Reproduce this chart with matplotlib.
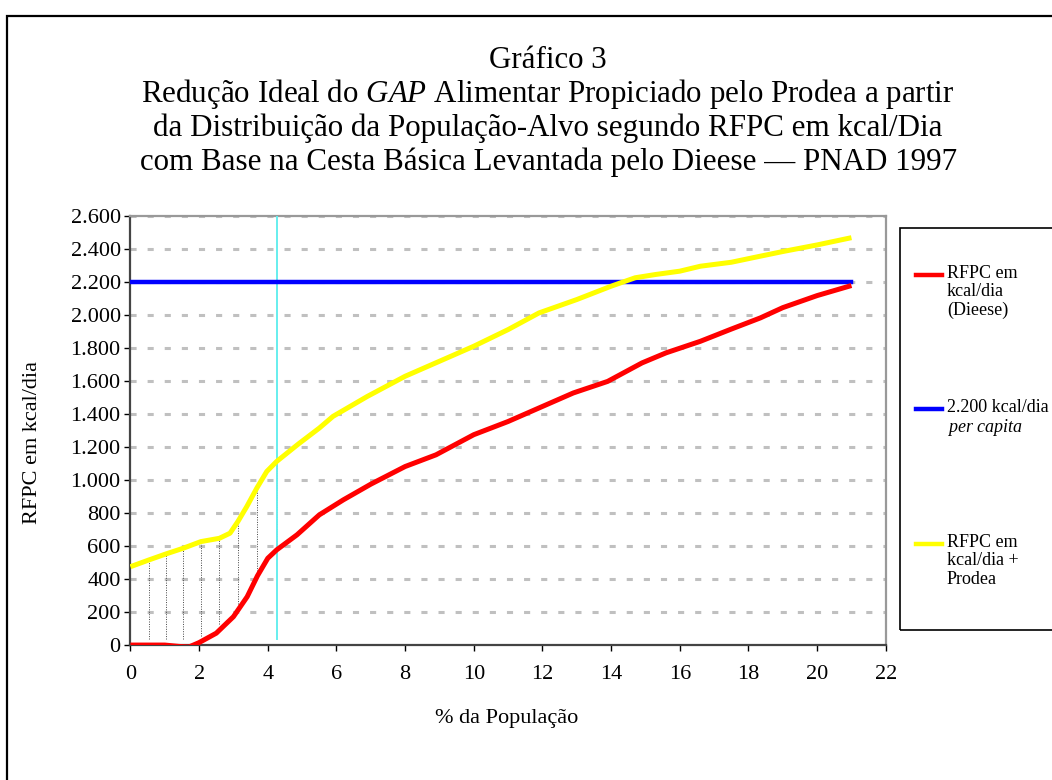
import numpy as np
import matplotlib
matplotlib.use("Agg")
import matplotlib.pyplot as plt
from matplotlib.lines import Line2D
from matplotlib.patches import Rectangle

plt.rcParams['font.family'] = ['Liberation Serif', 'DejaVu Serif']
plt.rcParams['mathtext.fontset'] = 'custom'
plt.rcParams['mathtext.rm'] = 'Liberation Serif'
plt.rcParams['mathtext.it'] = 'Liberation Serif:italic'

# data (% da população vs kcal/dia)
x_red = [0, 0.5, 1.0, 1.4, 1.7, 2.0, 2.5, 3.0, 3.4, 3.7, 4.0, 4.26, 4.85, 5.5,
         6.2, 7.0, 8.0, 8.9, 10.0, 11.0, 11.9, 12.9, 13.9, 14.9, 15.6, 16.6,
         17.5, 18.35, 19.0, 20.0, 21.0]
y_red = [0, 0, 0, -8, -12, 15, 72, 172, 293, 420, 526, 577, 668, 789,
         880, 975, 1082, 1153, 1275, 1355, 1437, 1528, 1598, 1710, 1771, 1841,
         1915, 1983, 2045, 2118, 2179]

x_yel = [0, 0.54, 1.03, 1.54, 2.05, 2.59, 2.9, 3.13, 3.39, 3.68, 3.97, 4.26,
         4.9, 5.5, 5.9, 6.9, 8.0, 9.0, 10.0, 11.0, 11.9, 13.0, 14.0, 14.7,
         15.3, 16.0, 16.6, 17.5, 18.35, 19.0, 20.0, 21.0]
y_yel = [475, 516, 552, 587, 627, 647, 678, 749, 840, 951, 1052, 1113,
         1220, 1315, 1386, 1507, 1629, 1720, 1811, 1912, 2013, 2094, 2175, 2226,
         2246, 2266, 2296, 2320, 2357, 2385, 2425, 2469]

x_ref = [0, 21.0]
y_ref = [2200, 2200]

# positions of the dotted gap lines and the cut-off line
x_gap = [0.54, 1.03, 1.54, 2.05, 2.59, 3.13, 3.68, 4.26]
x_cut = 4.26

fig = plt.figure(figsize=(10.52, 7.8), dpi=100)
ax = fig.add_axes([0.124, 0.173, 0.718, 0.550])

# outer frame
fig.add_artist(Rectangle((0.0062, -0.1), 1.2, 1.08, transform=fig.transFigure,
                         fill=False, ec='black', lw=1.6))

for yv in range(200, 2800, 200):
    ax.axhline(yv, color='#c0c0c0', lw=2.2, ls=(0, (2, 3.6)), zorder=1)

# gap lines between red and yellow curves
for xg in x_gap:
    lo = max(np.interp(xg, x_red, y_red), 0) + 35
    hi = np.interp(xg, x_yel, y_yel)
    ax.plot([xg, xg], [lo, hi], color='#444444', lw=0.7, ls=(0, (1, 1.5)), zorder=2)

ax.plot([x_cut, x_cut], [35, 2600], color='#66eeee', lw=1.4, zorder=3)

ax.plot(x_ref, y_ref, color='#0000ff', lw=3.2, zorder=4)
ax.plot(x_yel, y_yel, color='#ffff00', lw=3.6, zorder=5, solid_capstyle='butt')
ax.plot(x_red, y_red, color='#ff0000', lw=3.6, zorder=6, solid_capstyle='butt')

ax.set_xlim(0, 22)
ax.set_ylim(0, 2600)
ax.set_xticks(range(0, 23, 2))
ax.set_yticks(range(0, 2601, 200))
ax.set_yticklabels([f"{v:,}".replace(',', '.') for v in range(0, 2601, 200)])
ax.tick_params(labelsize=16, length=4, width=1, direction='out', pad=3)
ax.tick_params(axis='x', pad=10)

for s in ['top', 'right']:
    ax.spines[s].set_color('#999999')
    ax.spines[s].set_linewidth(1.6)
for s in ['left', 'bottom']:
    ax.spines[s].set_color('#444444')
    ax.spines[s].set_linewidth(1.6)

fig.text(0.482, 1 - 718 / 780, '% da População', ha='center', va='center', fontsize=16)
fig.text(0.031, 1 - 442 / 780, 'RFPC em kcal/dia', ha='center', va='center',
         rotation=90, fontsize=16)

# title
title_lines = ["Gráfico 3",
               r"Redução Ideal do $\mathit{GAP}$ Alimentar Propiciado pelo Prodea a partir",
               "da Distribuição da População-Alvo segundo RFPC em kcal/Dia",
               "com Base na Cesta Básica Levantada pelo Dieese — PNAD 1997"]
for i, t in enumerate(title_lines):
    fig.text(0.521, 1 - (68 + 34 * i) / 780, t, ha='center', va='baseline', fontsize=22.3)

# legend box
fig.add_artist(Rectangle((900 / 1052, 1 - 630 / 780), 0.3, 402 / 780,
                         transform=fig.transFigure, fill=False, ec='black', lw=1.2))
leg_items = [('#ff0000', 275, "RFPC em\nkcal/dia\n(Dieese)"),
             ('#0000ff', 409, "2.200 kcal/dia\n$\\mathit{per\\ capita}$"),
             ('#ffff00', 544, "RFPC em\nkcal/dia +\nProdea")]
for col, ypx, lab in leg_items:
    yf = 1 - ypx / 780
    fig.add_artist(Line2D([916 / 1052, 942 / 1052], [yf, yf], color=col, lw=3.2,
                          transform=fig.transFigure))
    fig.text(947 / 1052, 1 - (ypx - 10) / 780, lab, ha='left', va='top',
             fontsize=13, linespacing=1.1)

fig.savefig('out.png', dpi=100)
